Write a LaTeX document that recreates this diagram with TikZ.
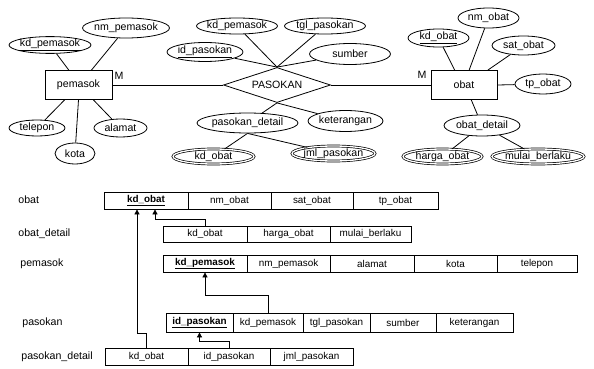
\documentclass[tikz,border=0pt]{standalone}
\usepackage{fontspec}
\setmainfont{Liberation Sans}
\usetikzlibrary{shapes.geometric,arrows.meta,calc}
\newcommand{\zw}[1]{\makebox[0pt]{#1}}
\begin{document}
\begin{tikzpicture}[x=1pt,y=-1pt,font=\fontsize{10.6}{12}\selectfont,line width=0.8pt,
  attr/.style={ellipse,draw,inner sep=0pt},
  wattr/.style={ellipse,draw,double,double distance=1.3pt,line width=0.7pt,inner sep=0pt},
  ent/.style={rectangle,draw,inner sep=0pt},
  rel/.style={diamond,draw,inner sep=0pt},
  cell/.style={rectangle,draw,inner sep=0pt,font=\fontsize{9.9}{11}\selectfont},
  fk/.style={-{Triangle[length=5pt,width=5pt]}},
  lbl/.style={anchor=west,inner sep=0pt}]
\useasboundingbox (0,0) rectangle (594,369);

% ---------- ER diagram ----------
\node[ent,minimum width=67,minimum height=29] (pem) at (78.5,85) {pemasok};
\node[attr,minimum width=82,minimum height=16] (kdp) at (50,45) {\zw{\underline{kd\_pemasok}}};
\node[attr,minimum width=87,minimum height=20] (nmp) at (126,28) {\zw{nm\_pemasok}};
\node[attr,minimum width=56,minimum height=16] (tel) at (37,128) {\zw{telepon}};
\node[attr,minimum width=40,minimum height=21] (kota) at (75,153.5) {\zw{kota}};
\node[attr,minimum width=53,minimum height=18] (alm) at (120.5,128) {\zw{alamat}};
\node[inner sep=0pt] (m1) at (119,76) {M};

\node[rel,minimum width=107,minimum height=35] (dia) at (277,85) {\zw{PASOKAN}};
\node[attr,minimum width=81,minimum height=16] (kdp2) at (237,26) {\zw{kd\_pemasok}};
\node[attr,minimum width=81,minimum height=16] (tgl) at (325,26) {\zw{tgl\_pasokan}};
\node[attr,minimum width=76,minimum height=19] (idp) at (205,52) {\zw{\underline{id\_pasokan}}};
\node[attr,minimum width=81,minimum height=21] (smb) at (350,54) {\zw{sumber}};
\node[attr,minimum width=101,minimum height=20] (pdet) at (247.5,123) {\zw{pasokan\_detail}};
\node[attr,minimum width=75,minimum height=21] (ket) at (345.5,121) {\zw{keterangan}};
\node[wattr,minimum width=81,minimum height=15] (kdo2) at (213.5,156.5) {\zw{kd\_obat}};
\node[wattr,minimum width=83,minimum height=15] (jml) at (333.5,153.5) {\zw{jml\_pasokan}};

\node[ent,minimum width=66,minimum height=29] (obat) at (464,85) {obat};
\node[inner sep=0pt] (m2) at (422,75) {M};
\node[attr,minimum width=61,minimum height=18] (kdo) at (438.5,38) {\zw{\underline{kd\_obat}}};
\node[attr,minimum width=61,minimum height=20] (nmo) at (488.5,18) {\zw{nm\_obat}};
\node[attr,minimum width=63,minimum height=19] (sato) at (523.5,45.5) {\zw{sat\_obat}};
\node[attr,minimum width=56,minimum height=20] (tpo) at (543,84) {\zw{tp\_obat}};
\node[attr,minimum width=76,minimum height=21] (odet) at (482,125.5) {\zw{obat\_detail}};
\node[wattr,minimum width=79,minimum height=15] (hrg) at (442.5,156.5) {\zw{harga\_obat}};
\node[wattr,minimum width=92,minimum height=15] (mlb) at (538,156.5) {\zw{mulai\_berlaku}};

\draw (kdp) -- (pem.123);
\draw (nmp) -- (pem.49);
\draw (tel) -- (pem.227);
\draw (kota) -- (pem.south);
\draw (alm) -- (pem.315);
\draw (pem.east) -- (dia.west);
\draw (dia.east) -- (obat.west);
\draw (kdp2) -- (dia.north);
\draw (tgl) -- (dia.north);
\draw (idp) -- (dia.north);
\draw (smb) -- (dia.north);
\draw (dia.south) -- (pdet);
\draw (dia.south) -- (ket);
\draw (pdet.south) -- (kdo2);
\draw (pdet.south) -- (jml);
\draw (kdo) -- (obat.122);
\draw (nmo) -- (obat.71);
\draw (sato) -- (obat.32);
\draw (obat.east) -- (tpo);
\draw (obat.296) -- (odet);
\draw (odet) -- (hrg);
\draw (odet) -- (mlb);

% ---------- relational tables ----------
\node[lbl] (lobat) at (18,200) {obat};
\node[lbl] (lodet) at (18,234) {obat\_detail};
\node[lbl] (lpem) at (20,264) {pemasok};
\node[lbl] (lpas) at (22,323) {pasokan};
\node[lbl] (lpd) at (21,357) {pasokan\_detail};

\node[cell,minimum width=84,minimum height=17] (o1) at (146,200.5) {\textbf{\underline{kd\_obat}}};
\node[cell,minimum width=83,minimum height=17] (o2) at (229.5,200.5) {nm\_obat};
\node[cell,minimum width=82,minimum height=17] (o3) at (312,200.5) {sat\_obat};
\node[cell,minimum width=85,minimum height=17] (o4) at (395.5,200.5) {tp\_obat};

\node[cell,minimum width=84,minimum height=16] (od1) at (205,234) {kd\_obat};
\node[cell,minimum width=83,minimum height=16] (od2) at (288.5,234) {harga\_obat};
\node[cell,minimum width=81,minimum height=16] (od3) at (370.5,234) {mulai\_berlaku};

\node[cell,minimum width=84,minimum height=17] (pe1) at (205,263.5) {\textbf{\underline{kd\_pemasok}}};
\node[cell,minimum width=83,minimum height=17] (pe2) at (288.5,263.5) {nm\_pemasok};
\node[cell,minimum width=84,minimum height=17] (pe3) at (372,263.5) {alamat};
\node[cell,minimum width=83,minimum height=17] (pe4) at (455.5,263.5) {kota};
\node[cell,minimum width=80,minimum height=17] (pe5) at (537,263.5) {telepon};

\node[cell,minimum width=67,minimum height=19] (pa1) at (199.5,322.5) {\textbf{\underline{id\_pasokan}}};
\node[cell,minimum width=70,minimum height=19] (pa2) at (268,322.5) {kd\_pemasok};
\node[cell,minimum width=67,minimum height=19] (pa3) at (336.5,322.5) {tgl\_pasokan};
\node[cell,minimum width=66,minimum height=19] (pa4) at (403,322.5) {sumber};
\node[cell,minimum width=77,minimum height=19] (pa5) at (474.5,322.5) {keterangan};

\node[cell,minimum width=83,minimum height=17] (pd1) at (146.5,356.5) {kd\_obat};
\node[cell,minimum width=82,minimum height=17] (pd2) at (229,356.5) {id\_pasokan};
\node[cell,minimum width=83,minimum height=17] (pd3) at (311.5,356.5) {jml\_pasokan};

\draw[fk] (pd1.north) -- ++(0,-14) -| ($(o1.south)+(-9,0)$);
\draw[fk] (od1.north) -- ++(0,-6) -| ($(o1.south)+(9,0)$);
\draw[fk] (pa2.north) -- ++(0,-17) -| (pe1.south);
\draw[fk] (pd2.north) -- ++(0,-6) -| (pa1.south);
\end{tikzpicture}
\end{document}
